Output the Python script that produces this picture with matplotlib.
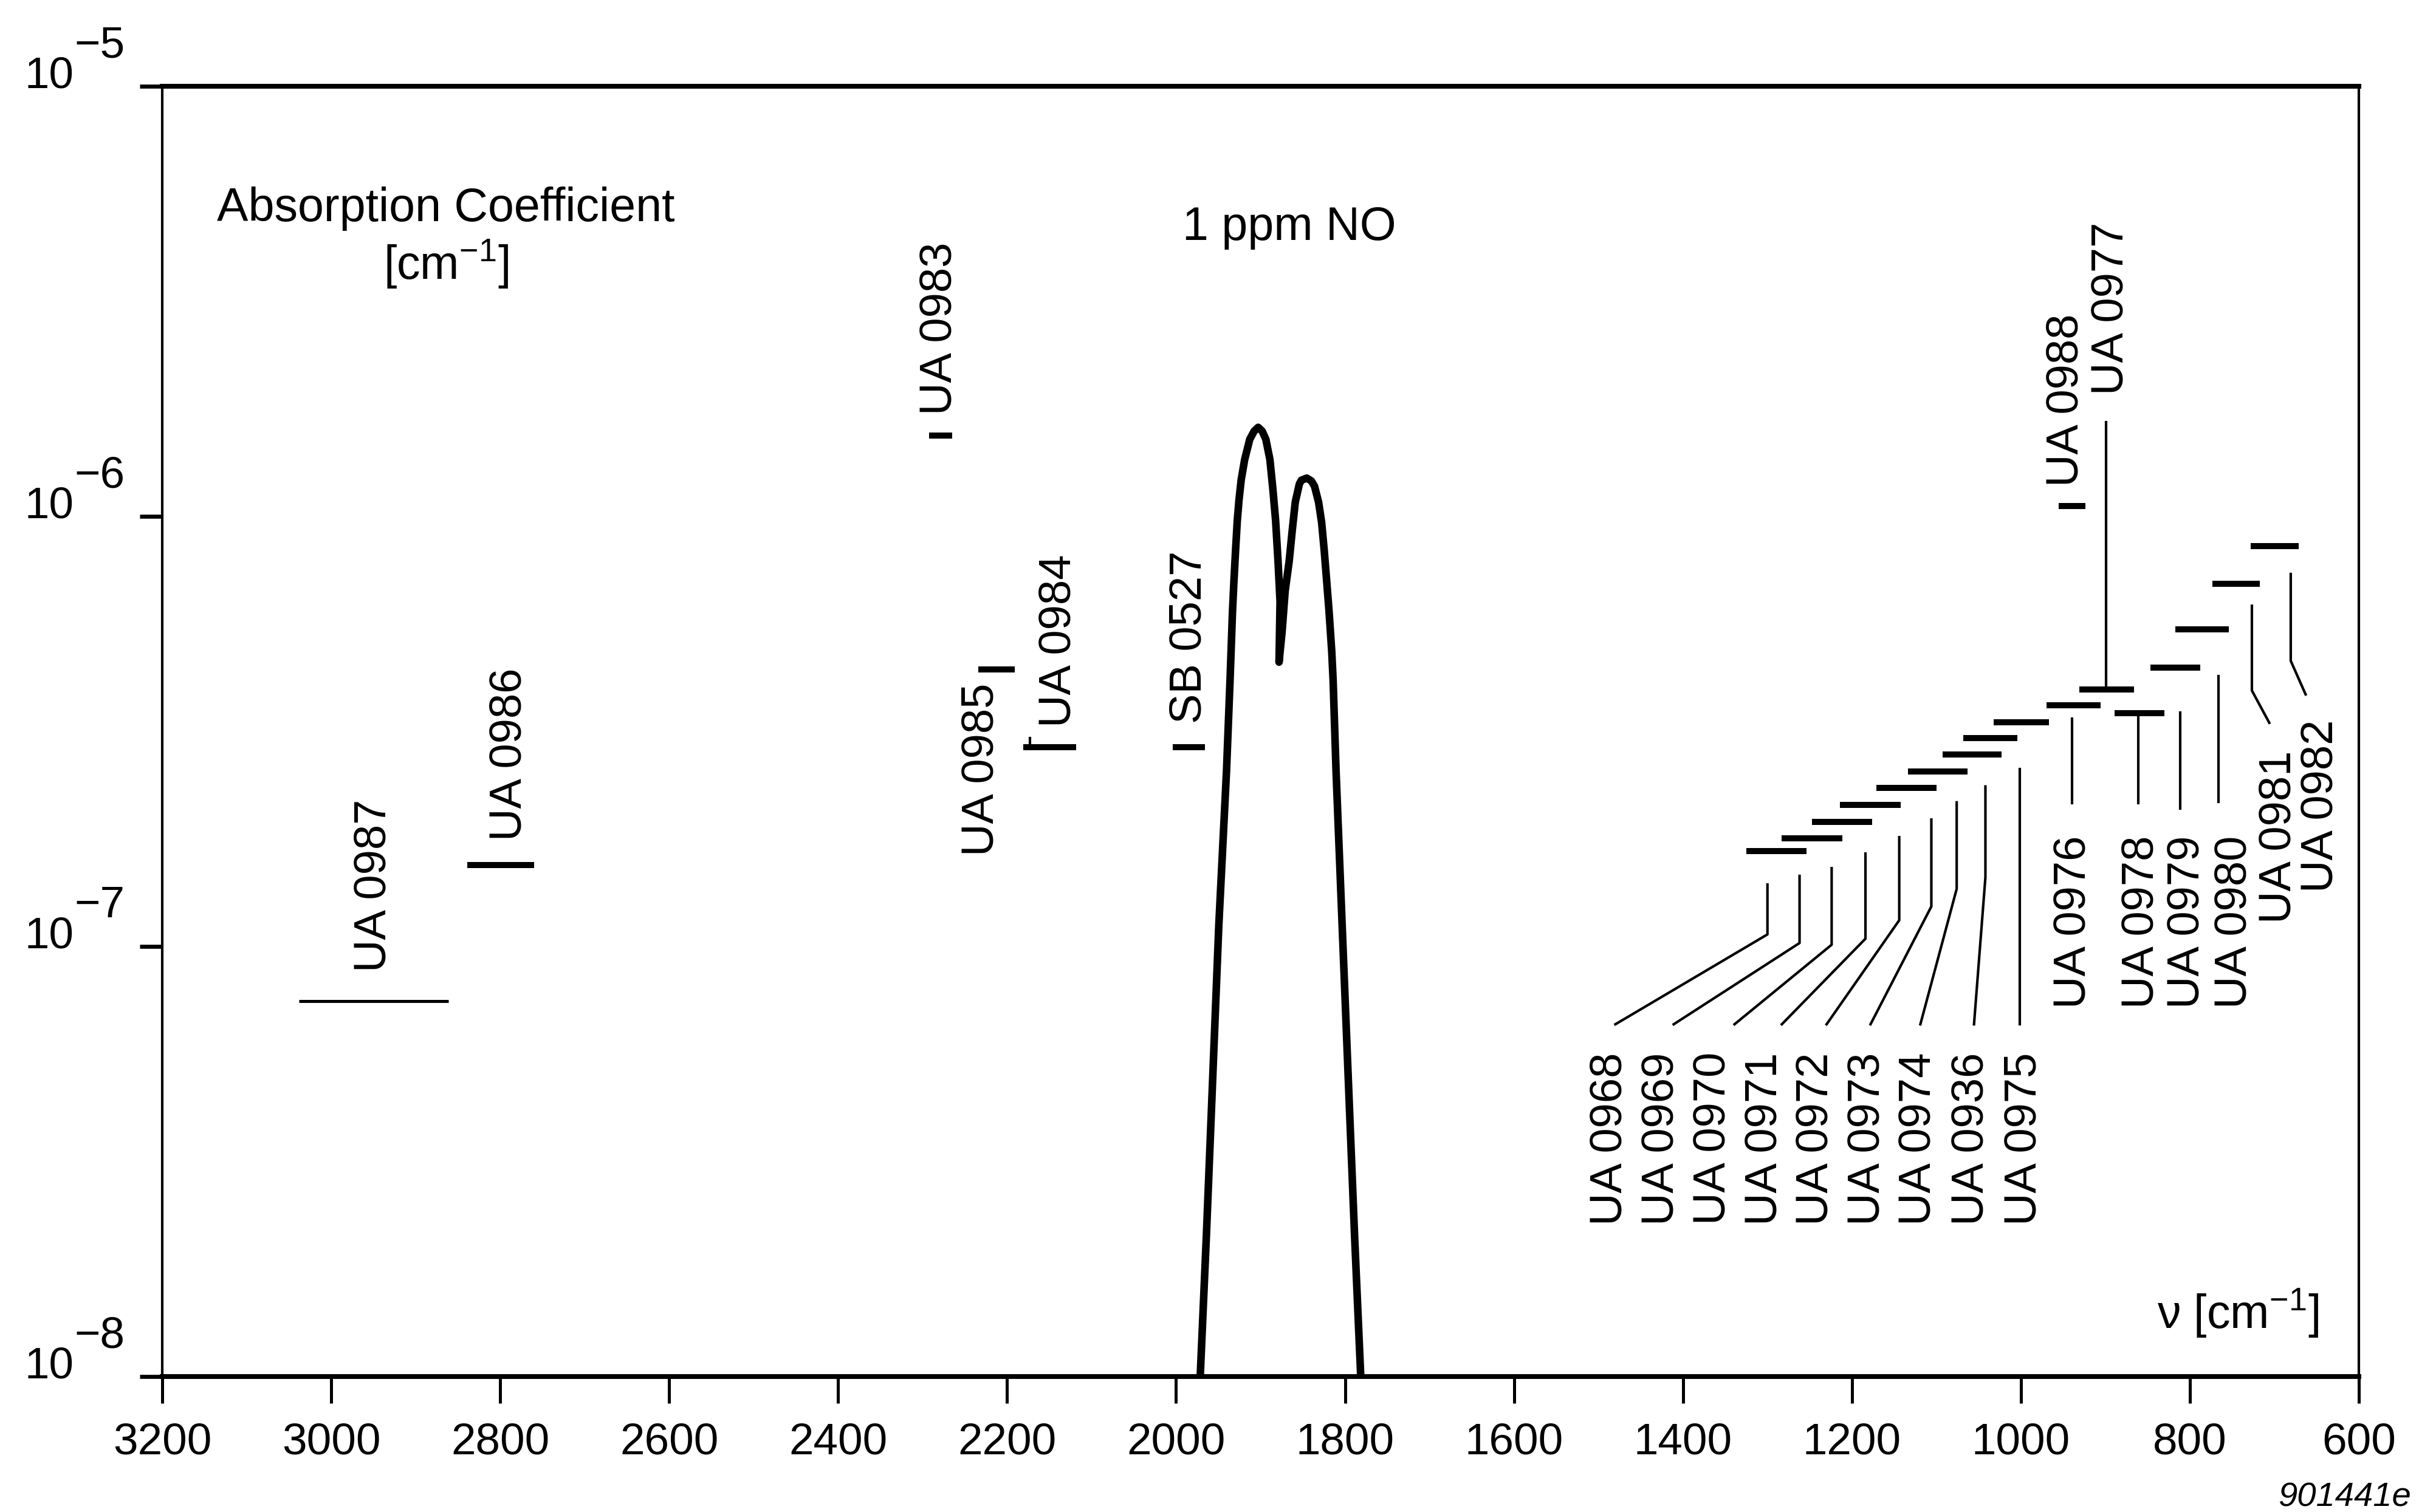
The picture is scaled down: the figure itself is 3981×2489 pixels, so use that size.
import numpy as np
import matplotlib.pyplot as plt

plt.rcParams["font.family"] = ["Liberation Sans", "DejaVu Sans"]
plt.rcParams["mathtext.fontset"] = "custom"
plt.rcParams["mathtext.rm"] = "Liberation Sans"
plt.rcParams["mathtext.it"] = "Liberation Sans:italic"
plt.rcParams["mathtext.default"] = "regular"

# 1 ppm NO band (wavenumber, log10 of absorption coefficient)
no_nu = [1971.4, 1964, 1956.7, 1949.4, 1940.3, 1936.1, 1934.9, 1933.2, 1931.5,
         1929.6, 1927.5, 1925.5, 1922.9, 1918.8, 1912.8, 1907.6, 1902.8, 1898.0,
         1893.7, 1888.9, 1885.3, 1882.2, 1879.3, 1876.9, 1878.1, 1874.5, 1870.9,
         1866.1, 1862.5, 1858.9, 1854.1, 1851.7, 1845.2, 1839.7, 1836.1, 1831.3,
         1827.7, 1824.6, 1821.7, 1818.9, 1815.7, 1814.1, 1810.6, 1803.4, 1796.1,
         1788.8, 1781.4]
no_logk = [-8.0, -7.668, -7.31, -6.951, -6.593, -6.381, -6.315, -6.221, -6.151,
           -6.080, -6.009, -5.962, -5.915, -5.868, -5.821, -5.802, -5.793, -5.802,
           -5.821, -5.868, -5.939, -6.009, -6.104, -6.198, -6.339, -6.268, -6.174,
           -6.104, -6.033, -5.967, -5.925, -5.916, -5.911, -5.918, -5.930, -5.967,
           -6.014, -6.080, -6.151, -6.221, -6.315, -6.381, -6.593, -6.951, -7.31,
           -7.668, -8.0]

# filter pass bands: name, upper / lower wavenumber, log10 k level
band_names = ["UA 0987", "UA 0986", "UA 0983", "UA 0985", "UA 0984", "SB 0527",
              "UA 0988", "UA 0968", "UA 0969", "UA 0970", "UA 0971", "UA 0972",
              "UA 0973", "UA 0974", "UA 0936", "UA 0975", "UA 0976", "UA 0977",
              "UA 0978", "UA 0979", "UA 0980", "UA 0981", "UA 0982"]
band_hi = [3038, 2839, 2292, 2234, 2181, 2004, 955, 1325, 1283, 1247, 1214, 1171,
           1134, 1093, 1068, 1032, 970, 931, 889, 847, 817, 773, 728]
band_lo = [2861, 2760, 2265, 2191, 2118, 1966, 924, 1254, 1211, 1176, 1142, 1100,
           1063, 1023, 1004, 967, 906, 866, 830, 788, 754, 717, 671]
band_logk = [-7.127, -6.811, -5.812, -6.356, -6.537, -6.537, -5.976, -6.778,
             -6.749, -6.710, -6.671, -6.631, -6.593, -6.554, -6.516, -6.479,
             -6.439, -6.403, -6.458, -6.352, -6.263, -6.157, -6.069]

# rotated filter names: anchor wavenumber, log10 k, which end is anchored
label_nu = [2950, 2789, 2280, 2230.5, 2139, 1984.5, 947, 1487, 1425, 1364, 1303,
            1242, 1181, 1121, 1058, 996, 937, 893, 857.5, 803, 747.5, 695, 645]
label_logk = [-7.059, -6.754, -5.764, -6.790, -6.490, -6.482, -5.931, -7.246,
              -7.246, -7.246, -7.246, -7.246, -7.246, -7.246, -7.246, -7.246,
              -6.742, -5.718, -6.742, -6.742, -6.742, -6.545, -6.473]
label_va = ["bottom"] * 7 + ["top"] * 10 + ["bottom"] + ["top"] * 5

# leader lines from names to bands: (wavenumber list, log10 k list)
leaders = [
    ([1300, 1300, 1480], [-6.856, -6.972, -7.181]),
    ([1262, 1262, 1411], [-6.836, -6.992, -7.181]),
    ([1224, 1224, 1339], [-6.818, -6.996, -7.181]),
    ([1184, 1184, 1283], [-6.784, -6.982, -7.181]),
    ([1144, 1144, 1230], [-6.746, -6.939, -7.181]),
    ([1106, 1106, 1178], [-6.705, -6.907, -7.181]),
    ([1076, 1076, 1119], [-6.665, -6.866, -7.181]),
    ([1042, 1042, 1055.5], [-6.628, -6.839, -7.181]),
    ([1001, 1001], [-6.588, -7.181]),
    ([939.5, 939.5], [-6.470, -6.667]),
    ([899, 899], [-5.781, -6.403]),
    ([861, 861], [-6.458, -6.667]),
    ([811.5, 811.5], [-6.456, -6.679]),
    ([766, 766], [-6.371, -6.664]),
    ([726.6, 726.6, 706], [-6.208, -6.405, -6.480]),
    ([680.6, 680.6, 663], [-6.134, -6.336, -6.414]),
    ([2173, 2173], [-6.537, -6.515]),
]

x_ticks = [3200, 3000, 2800, 2600, 2400, 2200, 2000, 1800, 1600, 1400, 1200,
           1000, 800, 600]
y_decades = [-8, -7, -6, -5]

fig = plt.figure(figsize=(3981 / 300, 2489 / 300), dpi=300)
ax = fig.add_axes([267 / 3981, 1 - 2266 / 2489, 3615 / 3981, 2124 / 2489])

ax.plot(no_nu, 10 ** np.array(no_logk), color="black", lw=3.0,
        solid_joinstyle="round", solid_capstyle="butt", zorder=3)

for name, hi, lo, lk in zip(band_names, band_hi, band_lo, band_logk):
    lw = 1.2 if name == "UA 0987" else 2.4
    ax.plot([hi, lo], [10 ** lk, 10 ** lk], color="black", lw=lw,
            solid_capstyle="butt")

for xs, lks in leaders:
    ax.plot(xs, 10 ** np.array(lks), color="black", lw=1.0)

for name, nu, lk, va in zip(band_names, label_nu, label_logk, label_va):
    ax.text(nu, 10 ** lk, name, rotation=90, ha="center", va=va, fontsize=17.8)

ax.text(2864, 10 ** -5.3136, "Absorption Coefficient", ha="center",
        va="baseline", fontsize=18.5)
ax.text(2864, 10 ** -5.449, "[cm$^{-1}$]", ha="center", va="baseline",
        fontsize=18.5)
ax.text(1866, 10 ** -5.329, "1 ppm NO", ha="center", va="center", fontsize=18.5)
ax.text(839, 10 ** -7.888, "ν [cm$^{-1}$]", ha="left", va="baseline",
        fontsize=18.5)

ax.set_yscale("log")
ax.set_xlim(3200, 600)
ax.set_ylim(1e-8, 1e-5)
ax.set_xticks(x_ticks)
ax.set_xticklabels([str(t) for t in x_ticks], fontsize=17.5)
ax.set_yticks([10.0 ** d for d in y_decades])
ax.set_yticklabels([])
ax.minorticks_off()
ax.tick_params(axis="x", direction="out", length=10.5, width=1.2, pad=7.5)
ax.tick_params(axis="y", direction="out", length=9, width=1.6)

# decade labels drawn as "10" with a full-size raised exponent
for d in y_decades:
    ax.annotate("10", xy=(0, 10.0 ** d), xycoords=("axes fraction", "data"),
                xytext=(-34.8, -0.5), textcoords="offset points",
                ha="right", va="baseline", fontsize=17.5)
    ax.annotate("\u2212" + str(-d), xy=(0, 10.0 ** d),
                xycoords=("axes fraction", "data"),
                xytext=(-34.6, 11.5), textcoords="offset points",
                ha="left", va="baseline", fontsize=17.5)

for side in ["top", "bottom"]:
    ax.spines[side].set_linewidth(1.9)
for side in ["left", "right"]:
    ax.spines[side].set_linewidth(1.0)

fig.text(3968 / 3981, 1 - 2480 / 2489, "901441e", ha="right", va="baseline",
         fontsize=13.5, style="italic")

fig.savefig("out.png", dpi=300)
